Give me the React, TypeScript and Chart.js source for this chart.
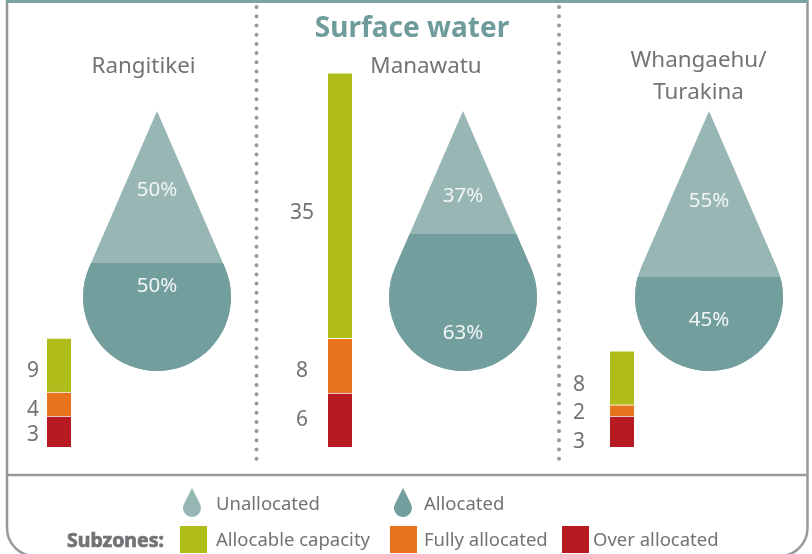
import React, { useEffect, useRef } from "react";
import { Chart, registerables } from "chart.js";

Chart.register(...registerables);

const regions = ["Rangitikei", "Manawatu", "Whangaehu/\nTurakina"];
const barCentres = [59, 340, 622];
// Drawn bar lengths, in subzone units
const overAllocated = [4.13, 7.2, 4.13];
const fullyAllocated = [3.2, 7.3, 1.5];
const allocableCapacity = [7.2, 35.4, 7.2];
const overLabels = ["3", "6", "3"];
const fullyLabels = ["4", "8", "2"];
const allocableLabels = ["9", "35", "8"];
const unallocatedPct = ["50%", "37%", "55%"];
const allocatedPct = ["50%", "63%", "45%"];
const dropCentres = [157, 463, 709];
const dropSplits = [263, 234, 277];

const GREY = "#727376";
const FRAME = "#97999b";
const TEAL_TITLE = "#6f9c9b";
const C_UNALLOC = "#97b6b4";
const C_ALLOC = "#729e9d";
const C_ALLOCABLE = "#b0bc1a";
const C_FULLY = "#e8731e";
const C_OVER = "#b81a21";
const FONT = '"Noto Sans", sans-serif';

function dropPath(ctx: CanvasRenderingContext2D, cx: number, apex: number, cy: number, r: number) {
  const d = cy - apex;
  const a = Math.asin(r / d);
  ctx.beginPath();
  ctx.moveTo(cx, apex);
  ctx.arc(cx, cy, r, -a, Math.PI + a, false);
  ctx.closePath();
}

function drawDrop(ctx: CanvasRenderingContext2D, cx: number, apex: number, cy: number, r: number, split: number | null, top: string, bottom: string) {
  ctx.save();
  dropPath(ctx, cx, apex, cy, r);
  ctx.fillStyle = top;
  ctx.fill();
  if (split !== null) {
    ctx.clip();
    ctx.fillStyle = bottom;
    ctx.fillRect(cx - r - 2, split, 2 * r + 4, cy + r - split + 2);
  }
  ctx.restore();
}

function txt(ctx: CanvasRenderingContext2D, s: string, x: number, y: number, font: string, color: string, align: CanvasTextAlign = "center") {
  ctx.font = font;
  ctx.fillStyle = color;
  ctx.textAlign = align;
  ctx.textBaseline = "middle";
  ctx.fillText(s, x, y);
}

const artwork = {
  id: "artwork",
  beforeDatasetsDraw(chart: any) {
    const { ctx, scales } = chart;
    const X = (v: number) => scales.x.getPixelForValue(v);
    const Y = (v: number) => scales.pos.getPixelForValue(v);
    ctx.save();
    // frame
    ctx.strokeStyle = FRAME;
    ctx.lineWidth = 2.5;
    ctx.beginPath();
    ctx.moveTo(X(7), Y(0));
    ctx.lineTo(X(7), Y(526));
    ctx.arcTo(X(7), Y(556), X(37), Y(556), 28);
    ctx.moveTo(X(807.5), Y(0));
    ctx.lineTo(X(807.5), Y(526));
    ctx.arcTo(X(807.5), Y(556), X(777), Y(556), 28);
    ctx.moveTo(X(7), Y(475));
    ctx.lineTo(X(807.5), Y(475));
    ctx.stroke();
    ctx.fillStyle = "#7aa5a3";
    ctx.fillRect(X(6), Y(0), 802, 3);
    // dotted dividers
    ctx.strokeStyle = FRAME;
    ctx.lineWidth = 4;
    ctx.lineCap = "round";
    ctx.setLineDash([0, 9.22]);
    for (const x of [256.5, 559]) {
      ctx.beginPath();
      ctx.moveTo(X(x), Y(7));
      ctx.lineTo(X(x), Y(466));
      ctx.stroke();
    }
    ctx.setLineDash([]);
    // drops
    dropCentres.forEach((c, i) => {
      drawDrop(ctx, X(c), Y(111), Y(297), 74, Y(dropSplits[i]), C_UNALLOC, C_ALLOC);
    });
    drawDrop(ctx, X(192), Y(488), Y(508), 9, null, C_UNALLOC, C_UNALLOC);
    drawDrop(ctx, X(403), Y(488), Y(508), 9, null, C_ALLOC, C_ALLOC);
    // legend squares
    ctx.fillStyle = C_ALLOCABLE;
    ctx.fillRect(X(180), Y(526), 27, 27);
    ctx.fillStyle = C_FULLY;
    ctx.fillRect(X(390), Y(526), 27, 27);
    ctx.fillStyle = C_OVER;
    ctx.fillRect(X(562), Y(526), 27, 27);
    ctx.restore();
  },
  afterDatasetsDraw(chart: any) {
    const { ctx, scales } = chart;
    const X = (v: number) => scales.x.getPixelForValue(v);
    const Y = (v: number) => scales.pos.getPixelForValue(v);
    ctx.save();
    txt(ctx, "Surface water", X(412), Y(29), `bold 28px ${FONT}`, TEAL_TITLE);
    const big = `22.4px ${FONT}`;
    txt(ctx, regions[0], X(143.5), Y(67), big, GREY);
    txt(ctx, regions[1], X(426), Y(67), big, GREY);
    const [w1, w2] = regions[2].split("\n");
    txt(ctx, w1, X(698.5), Y(61), big, GREY);
    txt(ctx, w2, X(698.5), Y(93), big, GREY);

    const pct = `20.5px ${FONT}`;
    const pctTop = [190, 196, 201];
    const pctBottom = [286, 333, 320];
    dropCentres.forEach((c, i) => {
      txt(ctx, unallocatedPct[i], X(c), Y(pctTop[i]), pct, "#f2f6f5");
      txt(ctx, allocatedPct[i], X(c), Y(pctBottom[i]), pct, "#f2f6f5");
    });

    const val = `21px ${FONT}`;
    const valX = [33, 302, 579];
    const allocY = [371, 213, 385];
    const fullY = [410, 371, 413];
    const overY = [435, 420, 442];
    valX.forEach((x, i) => {
      txt(ctx, allocableLabels[i], X(x), Y(allocY[i]), val, GREY);
      txt(ctx, fullyLabels[i], X(x), Y(fullY[i]), val, GREY);
      txt(ctx, overLabels[i], X(x), Y(overY[i]), val, GREY);
    });

    const leg = `18.5px ${FONT}`;
    txt(ctx, "Unallocated", X(216), Y(505), leg, GREY, "left");
    txt(ctx, "Allocated", X(424), Y(505), leg, GREY, "left");
    ctx.strokeStyle = GREY;
    ctx.lineWidth = 0.7;
    txt(ctx, "Subzones:", X(67), Y(541), `bold 19.5px ${FONT}`, GREY, "left");
    ctx.strokeText("Subzones:", X(67), Y(541));
    txt(ctx, "Allocable capacity", X(216), Y(541), leg, GREY, "left");
    txt(ctx, "Fully allocated", X(424), Y(541), leg, GREY, "left");
    txt(ctx, "Over allocated", X(593), Y(541), leg, GREY, "left");
    ctx.restore();
  },
};

const points = (vals: number[]) => vals.map((y, i) => ({ x: barCentres[i], y }));

export default function App() {
  const ref = useRef<HTMLCanvasElement>(null);
  useEffect(() => {
    document.body.style.margin = "0";
    const common = {
      barThickness: 24,
      stack: "s",
      borderColor: "rgba(255,255,255,0.65)",
      borderWidth: { top: 1 },
      borderSkipped: false,
    };
    const chart = new Chart(ref.current!, {
      type: "bar",
      data: {
        datasets: [
          { label: "Over allocated", data: points(overAllocated), backgroundColor: C_OVER, ...common },
          { label: "Fully allocated", data: points(fullyAllocated), backgroundColor: C_FULLY, ...common },
          { label: "Allocable capacity", data: points(allocableCapacity), backgroundColor: C_ALLOCABLE, ...common },
        ],
      } as any,
      options: {
        animation: false,
        responsive: false,
        layout: { padding: 0 },
        plugins: { legend: { display: false }, tooltip: { enabled: false }, title: { display: false } },
        scales: {
          x: { type: "linear", display: false, min: 0, max: 812, stacked: true, offset: false },
          y: { type: "linear", display: false, min: -107 / 7.5, max: 447 / 7.5, stacked: true },
          pos: { type: "linear", axis: "y", display: false, min: 0, max: 554, reverse: true },
        },
      } as any,
      plugins: [artwork],
    });
    return () => chart.destroy();
  }, []);
  return <canvas ref={ref} width={812} height={554} style={{ display: "block" }} />;
}
